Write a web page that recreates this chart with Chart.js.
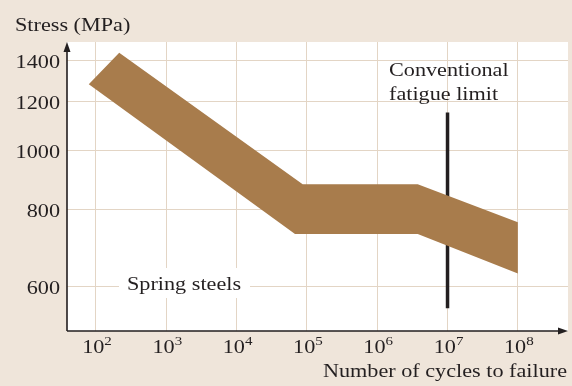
<!DOCTYPE html>
<html>
<head>
<meta charset="utf-8">
<script src="https://cdn.jsdelivr.net/npm/chart.js@4/dist/chart.umd.min.js"></script>
<style>
  html, body { margin: 0; padding: 0; background: #efe5da; }
  #wrap { width: 572px; height: 386px; }
</style>
</head>
<body>
<div id="wrap"><canvas id="snChart"></canvas></div>
<script>
// S-N band for spring steels
const cycleTicks = [1e2, 1e3, 1e4, 1e5, 1e6, 1e7, 1e8];
const cycleExponents = ['2', '3', '4', '5', '6', '7', '8'];
const stressTicks = [600, 800, 1000, 1200, 1400];

// band outline, clockwise from the left end
const bandCycles = [79, 214, 8.7e4, 3.77e6, 1e8, 1e8, 3.77e6, 6.77e4, 79];
const bandStress = [1283, 1444, 881, 881, 764, 630, 731, 731, 1283];

// conventional fatigue limit marker
const limitCycles = [1e7, 1e7];
const limitStress = [553, 1153];

const bandColor = '#a87c4c';
const gridColor = '#e3d5c5';
const inkColor = '#231f20';
const pageColor = '#efe5da';
const stretch = 1.2;

const toPoints = function (xs, ys) {
    let pts = [];
    for (var i = 0; i < xs.length; i++) {
        pts.push({ x: xs[i], y: ys[i] });
    }
    return pts;
};

// the source type is wide, so draw text squeezed out horizontally
function wideText(ctx, text, x, y, align, size) {
    ctx.save();
    ctx.translate(x, y);
    ctx.scale(stretch, 1);
    ctx.font = size + 'px "Liberation Serif", "Times New Roman", serif';
    ctx.fillStyle = inkColor;
    ctx.textAlign = align;
    ctx.textBaseline = 'alphabetic';
    ctx.fillText(text, 0, 0);
    ctx.restore();
}

function textWidth(ctx, text, size) {
    ctx.font = size + 'px "Liberation Serif", "Times New Roman", serif';
    return ctx.measureText(text).width * stretch;
}

const paperPlugin = {
    id: 'paper',
    beforeDraw(chart) {
        const { ctx, chartArea: a } = chart;
        ctx.save();
        ctx.fillStyle = pageColor;
        ctx.fillRect(0, 0, chart.width, chart.height);
        ctx.fillStyle = '#ffffff';
        ctx.fillRect(a.left, a.top, a.right - a.left, a.bottom - a.top);
        ctx.restore();
    },
    afterDraw(chart) {
        const { ctx, chartArea: a, scales } = chart;
        const xs = scales.x, ys = scales.y;

        // axes with arrow heads
        ctx.save();
        ctx.strokeStyle = inkColor;
        ctx.fillStyle = inkColor;
        ctx.lineWidth = 1.6;
        ctx.beginPath();
        ctx.moveTo(a.left, a.bottom);
        ctx.lineTo(a.left, a.top + 6);
        ctx.moveTo(a.left, a.bottom);
        ctx.lineTo(a.right - 6, a.bottom);
        ctx.stroke();
        ctx.beginPath();
        ctx.moveTo(a.left, a.top);
        ctx.lineTo(a.left - 3.5, a.top + 10);
        ctx.lineTo(a.left + 3.5, a.top + 10);
        ctx.closePath();
        ctx.fill();
        ctx.beginPath();
        ctx.moveTo(a.right, a.bottom);
        ctx.lineTo(a.right - 10, a.bottom - 3.5);
        ctx.lineTo(a.right - 10, a.bottom + 3.5);
        ctx.closePath();
        ctx.fill();
        ctx.restore();

        // y tick labels
        ys.ticks.forEach(t => {
            const py = ys.getPixelForValue(t.value);
            wideText(ctx, String(t.value), a.left - 7, py + 7.5, 'right', 18.5);
        });

        // x tick labels as 10 with a raised exponent
        xs.ticks.forEach((t, i) => {
            const px = xs.getPixelForValue(t.value);
            const exp = cycleExponents[i];
            const wBase = textWidth(ctx, '10', 18.5);
            const wExp = textWidth(ctx, exp, 12.5);
            const x0 = px - (wBase + wExp) / 2 + 1;
            wideText(ctx, '10', x0, a.bottom + 22, 'left', 18.5);
            wideText(ctx, exp, x0 + wBase, a.bottom + 14, 'left', 12.5);
        });

        // axis titles
        wideText(ctx, 'Stress (MPa)', 15, 31, 'left', 18.5);
        wideText(ctx, 'Number of cycles to failure', a.right - 1, chart.height - 9, 'right', 18.5);

        // notes
        wideText(ctx, 'Conventional', 389, 76, 'left', 18.5);
        wideText(ctx, 'fatigue limit', 389, 100, 'left', 18.5);

        ctx.save();
        ctx.fillStyle = '#ffffff';
        ctx.fillRect(119, 268, 131, 30);
        ctx.restore();
        wideText(ctx, 'Spring steels', 127, 290, 'left', 18.5);
    }
};

new Chart(document.getElementById('snChart'), {
    type: 'line',
    data: {
        datasets: [{
            label: 'Spring steels',
            data: toPoints(bandCycles, bandStress),
            backgroundColor: bandColor,
            borderColor: bandColor,
            borderWidth: 0,
            pointRadius: 0,
            tension: 0,
            fill: 'shape'
        }, {
            label: 'Conventional fatigue limit',
            data: toPoints(limitCycles, limitStress),
            borderColor: inkColor,
            borderWidth: 3.5,
            borderCapStyle: 'butt',
            pointRadius: 0,
            fill: false
        }]
    },
    plugins: [paperPlugin],
    options: {
        responsive: true,
        maintainAspectRatio: false,
        animation: false,
        layout: { padding: { top: 42, right: 4, left: 0, bottom: 0 } },
        plugins: {
            legend: { display: false },
            tooltip: { enabled: false },
            title: { display: false }
        },
        scales: {
            x: {
                type: 'logarithmic',
                min: 38.7,
                max: 5.17e8,
                afterBuildTicks: s => { s.ticks = cycleTicks.map(v => ({ value: v })); },
                afterFit: s => { s.height = 55; },
                ticks: { display: false },
                grid: { color: gridColor, lineWidth: 1, drawTicks: false },
                border: { display: false }
            },
            y: {
                type: 'logarithmic',
                min: 507.7,
                max: 1503,
                afterBuildTicks: s => { s.ticks = stressTicks.map(v => ({ value: v })); },
                afterFit: s => { s.width = 67; },
                ticks: { display: false },
                grid: { color: gridColor, lineWidth: 1, drawTicks: false },
                border: { display: false }
            }
        }
    }
});
</script>
</body>
</html>
